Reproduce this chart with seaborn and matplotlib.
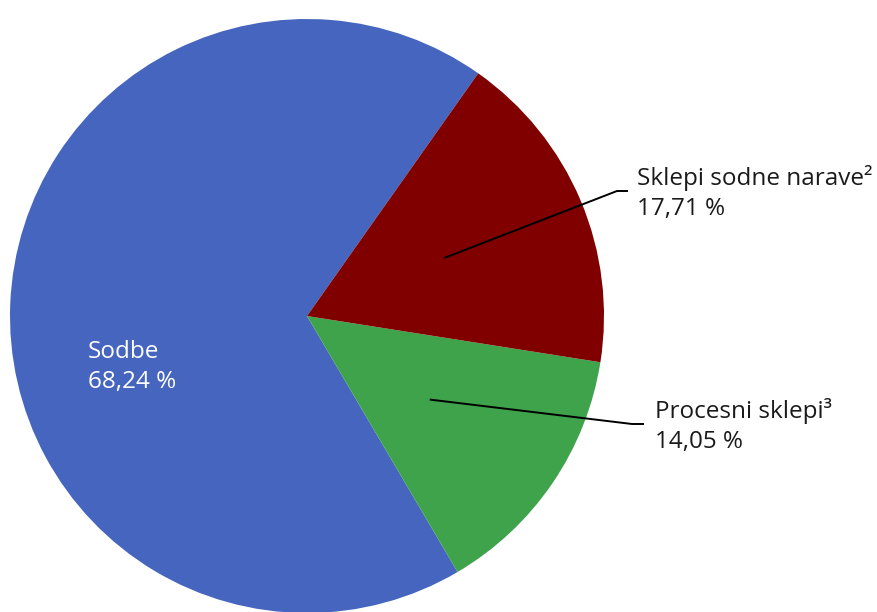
import numpy as np
import matplotlib
matplotlib.use("Agg")
import matplotlib.pyplot as plt
import seaborn as sns

# data
labels = ["Sodbe", "Procesni sklepi³", "Sklepi sodne narave²"]
shares = [68.24, 14.05, 17.71]
colors = ["#4565BE", "#3FA34B", "#800000"]

sns.set_theme(style="white")
plt.rcParams["font.family"] = ["Open Sans", "DejaVu Sans"]

fig = plt.figure(figsize=(8.77, 6.12), dpi=100)
ax = fig.add_axes([0, 0, 1, 1])

# pie centre / radius in pixels, used to set limits
cx, cy, rad = 307, 316, 297
W, H = 877, 612

start = 54.8
wedges, _ = ax.pie(shares, colors=colors, startangle=start, counterclock=True,
                   radius=1, center=(0, 0), wedgeprops=dict(linewidth=0))

ax.set_xlim(-cx / rad, (W - cx) / rad)
ax.set_ylim(-(H - cy) / rad, cy / rad)
ax.set_aspect("auto")
ax.axis("off")

def px(x, y):
    return ((x - cx) / rad, (cy - y) / rad)

def pct(v):
    return f"{v:.2f}".replace(".", ",") + " %"

fs = 17.5

# inside label for the big slice
tx, ty = px(88, 367)
ax.text(tx, ty, f"{labels[0]}\n{pct(shares[0])}", color="white", fontsize=fs,
        ha="left", va="center", linespacing=1.3)

# outside labels with leader lines
# (kink x, end x, line y, text x) in pixels
outside = {1: (632, 644, 424, 655), 2: (617, 628, 191, 637)}
for i, (kx, ex, ly, txp) in outside.items():
    w = wedges[i]
    mid = np.deg2rad((w.theta1 + w.theta2) / 2)
    sx, sy = 0.5 * np.cos(mid), 0.5 * np.sin(mid)
    k = px(kx, ly)
    e = px(ex, ly)
    ax.plot([sx, k[0], e[0]], [sy, k[1], e[1]], color="black", lw=1.4,
            solid_capstyle="butt")
    t = px(txp, ly + 2)
    ax.text(t[0], t[1], f"{labels[i]}\n{pct(shares[i])}", color="#1a1a1a",
            fontsize=fs, ha="left", va="center", linespacing=1.3)

fig.savefig("out.png", dpi=100)
